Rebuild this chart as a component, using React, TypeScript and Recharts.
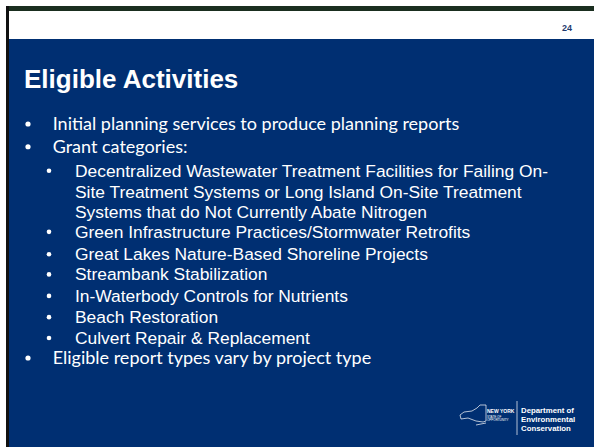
import { ScatterChart, Scatter, XAxis, YAxis, Customized } from "recharts";

const TITLE = "Eligible Activities";
const PAGE_NUMBER = "24";

// indent level (0 = top bullet, 1 = sub bullet), line position, bullet shown, text
const LEVELS = [0, 0, 1, 1, 1, 1, 1, 1, 1, 1, 1, 0];
const LINE_POS = [0, 1.07, 2.2, 3.18, 4.16, 5.07, 6.12, 7.07, 8.08, 9.08, 10.06, 11.0];
const HAS_BULLET = [true, true, true, false, false, true, true, true, true, true, true, true];
const LINES = [
  "Initial planning services to produce planning reports",
  "Grant categories:",
  "Decentralized Wastewater Treatment Facilities for Failing On-",
  "Site Treatment Systems or Long Island On-Site Treatment",
  "Systems that do Not Currently Abate Nitrogen",
  "Green Infrastructure Practices/Stormwater Retrofits",
  "Great Lakes Nature-Based Shoreline Projects",
  "Streambank Stabilization",
  "In-Waterbody Controls for Nutrients",
  "Beach Restoration",
  "Culvert Repair & Replacement",
  "Eligible report types vary by project type",
];

const rows = LINES.map((text, i) => ({
  level: LEVELS[i],
  pos: LINE_POS[i],
  bullet: HAS_BULLET[i],
  text,
}));

const BLUE = "#002f72";

function BulletLine(props: any) {
  const { cx, cy, payload } = props;
  const top = payload.level === 0;
  return (
    <g>
      {payload.bullet && <circle cx={cx} cy={cy} r={top ? 2.6 : 2.3} fill="#fff" />}
      <text
        x={cx + (top ? 24.7 : 26)}
        y={cy}
        dy={top ? 6.2 : 6}
        fill="#fff"
        fontFamily={top ? "Lato, 'Open Sans', sans-serif" : "'Liberation Sans', Arial, sans-serif"}
        fontSize={top ? 18 : 17.4}
      >
        {payload.text}
      </text>
    </g>
  );
}

function Decor() {
  return (
    <g>
      <text x={24} y={88} fill="#fff" fontFamily="'Liberation Sans', Arial, sans-serif" fontWeight="bold" fontSize={26}>
        {TITLE}
      </text>
      <text x={562} y={31} fill="#1f3a6e" fontFamily="'Liberation Sans', Arial, sans-serif" fontWeight="bold" fontSize={9}>
        {PAGE_NUMBER}
      </text>
      {/* NYS logo */}
      <path
        d="M460 415 L464 412 L472 411 L477 408 L480 405 L486 405 L486 421 L483 422 L476 421 L468 418 L461 419 Z M476 425 L486 423"
        fill="none"
        stroke="#fff"
        strokeWidth={0.7}
      />
      <text x={487} y={413} fill="#fff" fontFamily="'Liberation Sans', Arial, sans-serif" fontWeight="bold" fontSize={5}>
        NEW YORK
      </text>
      <text x={487} y={417.5} fill="#fff" fontFamily="'Liberation Sans', Arial, sans-serif" fontSize={3}>
        STATE OF
      </text>
      <text x={487} y={421} fill="#fff" fontFamily="'Liberation Sans', Arial, sans-serif" fontSize={3}>
        OPPORTUNITY
      </text>
      <line x1={517} y1={401} x2={517} y2={435} stroke="#fff" strokeWidth={0.7} />
      <g fill="#fff" fontFamily="'Liberation Sans', Arial, sans-serif" fontWeight="bold" fontSize={7.8}>
        <text x={521} y={413}>Department of</text>
        <text x={521} y={422}>Environmental</text>
        <text x={521} y={431}>Conservation</text>
      </g>
    </g>
  );
}

export default function App() {
  return (
    <div style={{ position: "absolute", left: 0, top: 0, width: 594, height: 447, background: "#fff", overflow: "hidden" }}>
      <div style={{ position: "absolute", left: 6, top: 6, width: 588, height: 5, background: "#1a2e1f" }} />
      <div style={{ position: "absolute", left: 6, top: 6, width: 3, height: 441, background: "#111" }} />
      <div style={{ position: "absolute", left: 9, top: 39, width: 585, height: 408, background: BLUE }} />
      <div style={{ position: "absolute", left: 0, top: 0 }}>
        <ScatterChart width={594} height={447} margin={{ top: 124, right: 545, bottom: 89, left: 28 }}>
          <XAxis type="number" dataKey="level" domain={[0, 1]} hide />
          <YAxis type="number" dataKey="pos" domain={[0, 11]} reversed hide />
          <Scatter data={rows} shape={<BulletLine />} isAnimationActive={false} />
          <Customized component={Decor} />
        </ScatterChart>
      </div>
    </div>
  );
}
